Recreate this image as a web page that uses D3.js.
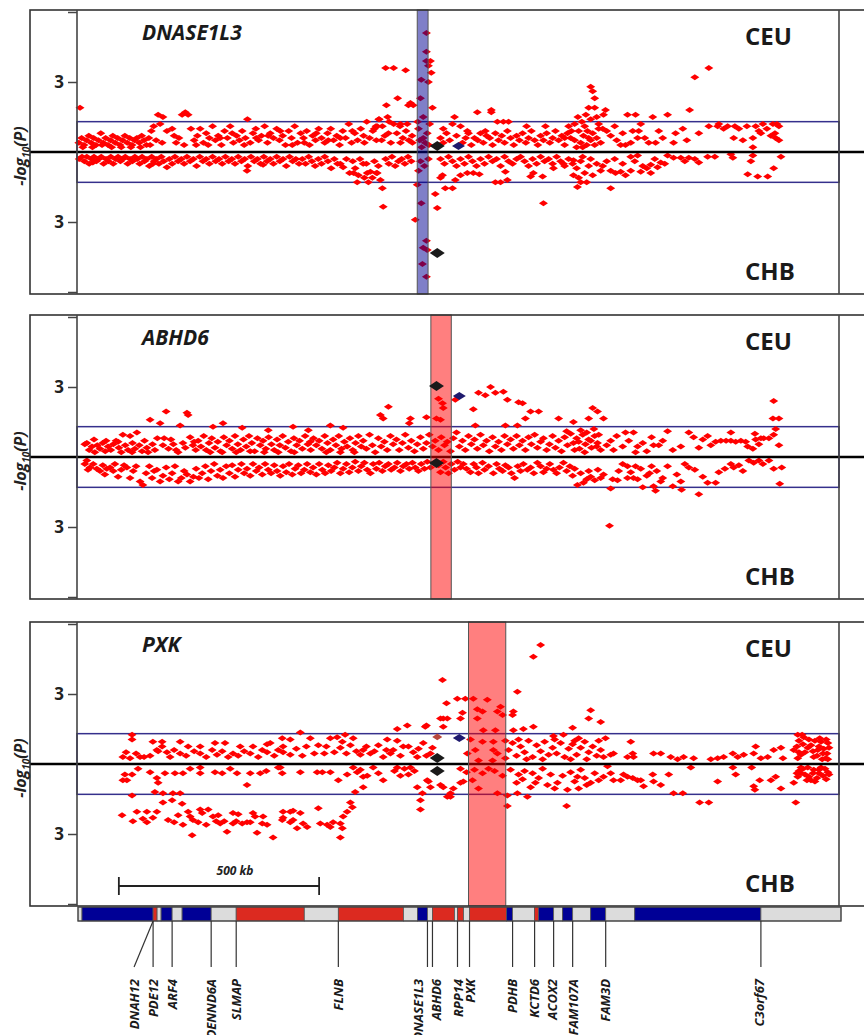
<!DOCTYPE html>
<html>
<head>
<meta charset="utf-8">
<script src="https://cdn.jsdelivr.net/npm/d3@7"></script>
<style>
body { margin: 0; background: #fff; }
text { font-family: "Open Sans", "DejaVu Sans", sans-serif; }
</style>
</head>
<body>
<div id="chart"></div>
<script>
// positions in kb from the left edge of the region, values are -log10(P)
// CEU values go up, CHB values go down
let ceu1 = [[5,1.9],[2,0.4],[9,0.6],[15,0.3],[21,0.5],[27,0.7],[33,0.4],[39,0.6],[45,0.3],[51,0.5],[57,0.8],[63,0.4],[69,0.6],[75,0.3],[81,0.5],[87,0.7],[93,0.4],[99,0.6],[105,0.3],[111,0.5],[117,0.7],[123,0.4],[129,0.6],[135,0.3],[141,0.5],[147,0.6],[153,0.4],[159,0.7],[165,0.5],[171,0.3],[177,0.6],[183,0.9],[189,1.1],[195,0.5],
  [200,1.6],[212,1.5],[205,1.2],[222,0.9],[235,1.0],[245,0.4],[252,0.6],[260,1.6],[268,1.7],[275,1.6],[282,1.0],[290,0.5],[298,0.7],[305,1.0],[313,0.4],[320,0.8],[328,0.6],[336,1.1],[343,0.5],[350,0.7],[358,0.3],[366,0.9],[373,0.6],[380,1.1],[388,0.4],[396,0.7],[403,0.5],[410,0.9],[418,0.6],[423,1.4],[430,0.4],[437,0.8],[444,1.0],[451,0.5],[458,0.7],[466,1.1],[473,0.4],[480,0.8],[488,0.6],[496,1.0],[503,0.5],[511,0.7],[518,0.3],[526,0.9],[533,0.6],[541,1.1],[548,0.4],[556,0.8],[563,0.6],[571,0.9],[578,0.3],[586,0.7],[593,0.5],[601,1.0],[608,0.6],[616,0.4],[623,0.8],[631,1.0],[638,0.5],[646,0.7],[653,0.3],[661,0.9],[668,0.6],[676,1.2],[683,0.4],[691,0.8],[698,0.5],[706,1.0],[713,0.7],[721,1.3],[728,0.6],[736,0.9],[744,1.1],[751,1.4],[758,0.5],[766,0.7],[773,1.5],[781,0.4],[788,1.2],[796,0.8],[804,1.1],[811,0.6],[819,0.9],[826,0.5],[834,0.7],
  [12,0.2],[36,0.2],[60,0.3],[84,0.2],[108,0.2],[132,0.2],[156,0.2],[180,0.3],[210,0.4],[240,0.7],[265,0.3],[295,0.3],[325,0.3],[355,0.6],[385,0.8],[415,0.3],[445,0.6],[475,0.7],[505,0.9],[535,0.3],[565,0.4],[595,0.8],[625,0.5],[655,0.6],[685,0.9],[715,0.4],[745,0.5],[775,0.8],[805,0.4],[835,0.4],
  [768,3.6],[788,3.6],[818,3.5],[798,2.3],[770,2.0],[830,2.1],[825,2.0],[837,2.0],[752,1.4],[777,1.3],[747,1.1],[760,1.1],[805,1.2],[822,1.2],[740,1.0],
  [870,5.1],[870,4.3],[870,3.9],[880,3.9],[875,3.7],[857,3.1],[875,3.0],[882,3.4],[855,2.3],[885,1.9],[862,1.5],[850,1.0],[862,0.6],[867,0.4],[858,0.2],[872,0.8],[853,0.5],[876,0.3],[848,1.3],[878,1.2],
  [940,1.5],[935,1.2],[955,1.1],[912,1.0],[972,0.9],[997,1.7],[1032,1.8],[1032,1.7],[1047,1.3],[1062,1.3],[1075,1.3],[1120,1.1],[1167,1.1],[1017,0.9],
  [905,0.6],[912,0.4],[920,0.8],[928,0.5],[945,0.7],[960,0.4],[968,0.6],[975,0.8],[982,0.3],[990,0.6],[998,0.5],[1005,0.8],[1012,0.4],[1020,0.7],[1028,0.6],[1035,0.3],[1042,0.8],[1050,0.5],[1058,0.7],[1065,0.4],[1072,0.9],[1080,0.6],[1088,0.3],[1095,0.7],[1102,0.5],[1110,0.8],[1118,0.4],[1125,0.6],[1132,0.9],[1140,0.5],[1148,0.3],[1155,0.7],[1162,0.5],[1170,0.8],[1178,0.4],[1185,0.6],[1192,0.9],[1200,0.5],[1208,0.7],[1215,0.3],[1222,0.8],[1230,0.6],
  [1280,2.8],[1285,2.6],[1290,2.3],[1275,1.9],[1290,1.9],[1268,1.6],[1248,1.5],[1258,1.3],[1240,1.2],[1265,1.1],[1280,1.4],[1295,1.5],[1300,1.0],[1250,0.9],[1262,0.7],[1272,0.9],[1285,0.8],[1295,0.6],[1305,0.4],[1240,0.5],[1232,0.9],[1255,0.4],[1270,0.3],[1280,0.5],[1300,1.2],[1225,1.1],[1215,0.6],[1245,0.2],[1260,0.2],[1275,0.6],[1290,0.3],
  [1317,1.8],[1312,1.6],[1372,1.6],[1392,1.6],[1435,1.5],[1472,1.6],[1527,1.8],[1540,3.2],[1575,3.6],[1510,1.0],[1492,0.8],[1397,0.6],[1380,0.4],[1442,0.4],[1367,0.3],[1355,0.3],[1330,0.7],[1310,1.0],[1575,1.1],[1597,1.1],[1622,1.1],[1650,1.0],[1692,1.1],[1735,1.2],[1750,1.1],[1637,0.6],[1660,0.5],[1685,0.6],[1705,0.8],[1730,0.7],[1742,0.6],[1750,0.5],[1685,0.2],[1487,0.4],
  [1320,0.9],[1345,0.5],[1360,0.8],[1400,0.9],[1415,0.6],[1425,0.4],[1450,0.9],[1460,0.6],[1520,0.5],[1550,0.8],[1600,1.2],[1612,1.0],[1640,1.1],[1670,1.1],[1710,1.2],[1720,1.0],[1745,1.2],[1700,0.9],[1740,0.8],[1340,1.1],[1385,0.9],[1405,1.2]];

let chb1 = [[3,0.3],[10,0.2],[16,0.4],[22,0.2],[28,0.5],[34,0.3],[37,0.45],[40,0.2],[46,0.4],[52,0.3],[58,0.2],[64,0.5],[70,0.3],[76,0.4],[82,0.2],[88,0.5],[94,0.3],[100,0.2],[106,0.4],[112,0.3],[118,0.2],[124,0.5],[130,0.3],[136,0.4],[142,0.2],[148,0.3],[154,0.5],[160,0.2],[166,0.4],[172,0.3],[178,0.6],[184,0.2],[187,0.5],[190,0.4],[196,0.3],[202,0.5],[208,0.2],[214,0.4],[222,0.65],[228,0.3],[235,0.5],[242,0.2],[250,0.4],[258,0.3],[265,0.5],[272,0.2],[280,0.4],[288,0.3],[296,0.6],[304,0.2],[312,0.4],[320,0.3],[328,0.5],[336,0.2],[344,0.4],[352,0.3],[360,0.5],[368,0.2],[376,0.4],[384,0.3],[392,0.5],[400,0.2],[408,0.4],[416,0.3],[422,0.8],[424,0.6],[432,0.2],[440,0.4],[448,0.3],[456,0.5],[462,0.55],[464,0.2],[472,0.4],[480,0.3],[488,0.5],[496,0.2],[504,0.4],[512,0.3],[520,0.6],[528,0.2],[536,0.4],[544,0.3],[552,0.5],
  [560,0.3],[568,0.5],[576,0.2],[584,0.4],[592,0.6],[600,0.3],[608,0.5],[616,0.2],[624,0.4],[632,0.7],[640,0.3],[648,0.5],[655,0.5],[662,0.65],[670,0.3],[678,0.9],[686,0.4],[688,0.9],[692,0.7],[697,1.3],[700,1.0],[704,0.3],[712,0.5],[715,1.1],[720,0.5],[722,0.9],[725,1.3],[730,0.85],[735,1.1],[740,0.4],[745,0.9],[747,0.9],[750,0.6],[755,1.2],[760,1.55],[762,2.35],[768,0.3],[776,0.5],[784,0.2],[792,0.6],[800,0.4],[808,0.3],[816,0.5],[824,0.2],[832,0.4],
  [847,1.4],[857,2.2],[842,2.9],[892,1.8],[897,2.4],[870,3.8],[862,4.1],[872,4.2],[860,4.8],[870,5.35],[855,0.4],[865,0.6],[875,0.3],[850,0.8],
  [910,1.0],[905,1.1],[917,1.55],[935,1.55],[942,1.2],[955,1.0],[972,0.9],[987,0.9],[1002,0.95],[1042,1.3],[1055,1.3],[1072,1.2],[1067,0.85],[1130,1.05],[1137,0.9],[1162,2.2],[1160,1.05],[1187,0.7],[1212,0.5],[1237,0.35],
  [905,0.3],[915,0.5],[925,0.2],[935,0.4],[945,0.6],[955,0.3],[965,0.5],[975,0.2],[985,0.4],[995,0.6],[1005,0.3],[1015,0.5],[1025,0.2],[1035,0.4],[1045,0.3],[1055,0.6],[1065,0.2],[1075,0.4],[1085,0.5],[1095,0.3],[1105,0.2],[1115,0.4],[1125,0.6],[1135,0.3],[1145,0.5],[1155,0.2],[1165,0.4],[1175,0.3],[1185,0.5],[1195,0.2],[1205,0.4],[1215,0.6],[1225,0.3],[1235,0.5],[1245,0.7],[1255,0.4],[1265,0.9],[1275,0.6],[1285,1.0],[1295,0.5],[1305,0.8],[1250,1.1],[1270,1.3],[1280,0.3],[1260,0.2],
  [1247,1.5],[1330,1.55],[1255,1.3],[1237,1.0],[1330,0.8],[1355,0.85],[1380,0.8],[1405,0.85],[1430,0.55],[1447,0.65],[1455,0.45],[1472,0.15],[1487,0.25],[1505,0.25],[1525,0.25],[1550,0.45],[1572,0.2],[1590,0.2],[1630,0.1],[1635,0.25],[1672,0.95],[1697,1.05],[1722,1.05],[1685,0.15],[1680,0.4],[1737,0.7],[1755,0.2],[1380,0.2],[1397,0.15],[1430,0.9],[1367,1.0],[1342,0.9],
  [1310,0.6],[1320,0.4],[1340,0.3],[1360,0.5],[1390,0.4],[1410,0.6],[1420,0.7],[1440,0.3],[1465,0.5],[1515,0.4],[1540,0.3]];

let ceu2 = [[17,0.55],[22,0.6],[28,0.3],[35,0.45],[42,0.2],[48,0.5],[55,0.35],[62,0.6],[68,0.25],[75,0.45],[82,0.3],[88,0.55],[95,0.7],[102,0.4],[108,0.2],[112,0.95],[118,0.5],[125,0.3],[130,0.9],[136,0.6],[142,0.35],[147,1.05],[153,0.5],[160,0.25],[166,0.7],[172,0.4],[180,1.6],[186,0.55],[192,0.3],[198,0.8],[205,1.45],[212,0.5],[220,1.95],[226,0.35],[232,0.75],[238,0.55],[245,0.3],[255,1.35],[262,0.6],[268,0.4],[272,1.9],[275,1.8],[280,0.85],[287,0.5],[294,0.3],[300,0.7],[307,0.45],[314,0.9],[320,0.3],[327,0.6],[334,0.8],[337,1.3],[342,0.4],[349,0.65],[356,0.25],[362,1.45],[364,0.85],[371,0.5],[378,0.7],[385,0.35],[392,0.9],[399,0.55],[406,0.3],[410,1.25],[413,0.75],[420,0.45],[427,0.9],[434,0.6],[441,0.25],[448,0.8],[455,0.5],[462,0.7],[469,0.35],[475,1.15],[476,0.85],[483,0.55],[490,0.3],[497,0.75],[504,0.5],[511,0.9],[518,0.4],[525,0.65],[532,0.25],[537,1.3],[539,0.8],[546,0.5],[553,0.7],[560,0.35],[567,0.9],[575,1.15],[574,0.55],[581,0.3],[588,0.8],[595,0.5],[602,0.7],[609,0.35],[616,0.9],[623,0.6],[630,1.35],[630,0.3],[637,0.75],[644,0.5],[651,0.9],[658,0.35],[662,1.25],[665,0.65],[672,0.45],[679,0.8],[686,0.3],[693,0.6],[700,0.9],[707,0.45],
  [40,0.75],[70,0.7],[100,0.65],[135,0.2],[175,0.2],[215,0.8],[250,0.2],[290,0.65],[330,0.2],[360,0.2],[395,0.2],[430,0.25],[465,0.2],[500,0.2],[540,0.2],[580,0.65],[620,0.2],[655,0.2],[690,0.2],
  [775,2.15],[755,1.8],[762,1.65],[830,1.65],[870,1.7],[827,1.45],[895,1.65],[905,1.6],[900,2.5],[910,2.3],[912,2.1],[942,2.45],
  [1000,2.75],[1030,3.0],[1042,2.75],[1062,2.8],[1017,2.65],[1072,2.45],[1100,2.35],[1110,2.3],[987,2.05],[1130,1.95],[1150,1.95],[1117,1.65],[1200,1.65],[1237,1.5],[1285,2.1],[1297,1.95],[1275,1.65],[1312,1.65],[1067,1.35],[1097,1.35],[992,1.35],
  [712,0.7],[720,0.35],[728,0.95],[735,0.5],[742,0.2],[750,0.8],[757,0.45],[765,0.65],[772,0.3],[780,0.9],[787,0.55],[795,0.75],[802,0.3],[810,0.6],[817,0.95],[825,0.4],[832,0.7],[840,0.25],[847,0.55],[855,0.85],[862,0.35],[870,0.6],[877,0.95],[885,0.45],[892,0.7],[900,0.3],[907,0.85],[915,0.5],[922,0.65],[930,0.25],[937,0.8],[945,1.05],[952,0.45],[960,0.7],[967,0.3],[975,0.9],[982,0.55],[990,0.75],[997,0.35],[1005,0.95],[1012,0.5],[1020,0.7],[1027,0.25],[1035,0.85],[1042,0.45],[1050,0.65],[1057,0.3],[1065,0.9],[1072,0.55],[1080,0.75],[1087,0.35],[1095,0.9],[1102,0.5],[1110,0.7],[1117,0.3],[1125,0.85],[1132,0.55],[1140,0.95],[1147,0.4],[1155,0.65],[1162,0.8],[1170,0.3],[1177,0.55],[1185,0.9],[1192,0.4],[1200,0.7],[1207,0.25],[1215,0.85],[1222,0.5],[1230,1.0],[1237,0.6],[1245,0.8],[1252,0.35],[1260,0.95],[1267,0.55],[1275,0.75],[1282,0.4],[1290,0.9],[1297,0.6],[1305,0.3],
  [1220,1.1],[1240,0.3],[1255,1.15],[1265,0.2],[1270,1.05],[1280,0.7],[1288,1.2],[1295,0.45],[1300,0.95],[1250,0.65],
  [1367,1.05],[1387,1.05],[1375,0.7],[1330,0.7],[1360,0.45],[1397,0.45],[1392,0.2],[1337,0.3],[1432,0.85],[1437,0.5],[1450,0.5],[1472,1.1],[1525,1.05],[1537,0.85],[1485,0.3],[1505,0.45],[1572,0.9],[1580,0.5],[1592,0.65],[1605,0.7],[1618,0.7],[1630,0.7],[1642,0.65],[1655,0.7],[1667,0.65],[1630,1.05],[1672,0.45],[1685,0.35],[1690,1.0],[1692,0.75],[1712,0.8],[1725,0.8],[1737,2.4],[1735,1.65],[1750,1.65],[1742,1.2],[1737,0.95],[1750,0.5],
  [1320,0.5],[1345,0.9],[1410,0.6],[1420,0.25],[1460,0.7],[1550,0.4],[1560,0.75],[1700,0.55],[1705,0.8]];

let chb2 = [[22,0.15],[30,0.45],[47,0.5],[80,0.45],[122,0.45],[67,0.75],[100,0.85],[130,0.9],[162,1.2],[155,1.05],[205,1.05],[250,1.05],[280,1.05],[197,0.55],[272,0.75],
  [17,0.3],[25,0.55],[38,0.3],[55,0.6],[62,0.35],[72,0.5],[88,0.6],[92,0.3],[108,0.55],[115,0.35],[138,0.6],[145,0.4],[170,0.7],[178,0.4],[185,0.9],[190,0.6],[212,0.8],[220,0.45],[228,0.95],[235,0.7],[242,0.4],[258,0.9],[265,0.6],[288,0.85],[295,0.5],[302,0.9],[310,0.7],[318,0.4],[325,0.95],[332,0.6],[340,0.3],[348,0.8],[355,0.55],[362,0.9],[370,0.4],[378,0.7],[385,0.35],[392,0.85],[400,0.55],[408,0.3],[415,0.7],[422,0.5],[430,0.8],[437,0.3],[445,0.6],[452,0.45],[460,0.75],[467,0.3],[475,0.55],[482,0.7],[490,0.35],[497,0.6],[505,0.8],[512,0.4],[520,0.65],[527,0.3],[535,0.75],[542,0.5],[550,0.35],[557,0.7],[565,0.55],[572,0.3],[580,0.65],[587,0.45],[595,0.75],[602,0.3],[610,0.55],[617,0.7],[625,0.35],[632,0.6],[640,0.45],[647,0.25],[655,0.7],[662,0.5],[670,0.3],[677,0.65],[685,0.45],[692,0.2],[700,0.6],[707,0.4],[715,0.25],[722,0.55],[730,0.7],[737,0.3],[745,0.5],[752,0.25],[760,0.6],[767,0.4],[775,0.3],[782,0.55],[790,0.45],[797,0.25],[805,0.6],[812,0.4],[820,0.3],[827,0.5],[835,0.25],[842,0.45],[850,0.6],[857,0.3],[865,0.5],[872,0.2],[880,0.45],
  [905,0.65],[925,0.7],[955,0.45],[980,0.65],[1000,0.7],[1037,0.7],[1067,0.35],[1090,0.9],[1122,0.55],[1147,0.25],[1162,0.65],[1187,0.55],[1212,0.25],[1247,1.2],[1262,1.1],[1280,0.85],
  [900,0.35],[912,0.2],[918,0.45],[932,0.3],[940,0.55],[948,0.2],[962,0.3],[970,0.5],[988,0.3],[995,0.45],[1010,0.25],[1015,0.55],[1025,0.4],[1045,0.3],[1052,0.5],[1060,0.6],[1075,0.45],[1082,0.7],[1098,0.4],[1105,0.6],[1112,0.3],[1130,0.45],[1138,0.7],[1155,0.4],[1170,0.5],[1178,0.3],[1195,0.7],[1202,0.45],[1220,0.6],[1228,0.4],[1235,0.8],[1240,0.5],[1255,0.7],[1270,0.95],[1275,0.6],[1290,1.0],[1298,0.55],[1305,0.9],
  [1312,0.75],[1335,0.95],[1347,1.0],[1372,0.9],[1387,0.9],[1397,0.95],[1372,0.4],[1392,0.4],[1432,0.4],[1472,0.4],[1525,0.45],[1427,0.7],[1410,1.3],[1437,1.25],[1442,1.45],[1455,1.05],[1485,1.25],[1505,1.05],[1507,1.4],[1550,1.6],[1572,1.1],[1592,1.1],[1630,0.3],[1637,0.45],[1675,0.15],[1687,0.25],[1700,0.15],[1725,0.15],[1737,0.5],[1757,0.45],[1752,1.15],[1330,1.35],[1327,2.95],
  [1350,0.6],[1360,0.3],[1380,0.65],[1405,0.5],[1420,0.8],[1445,0.6],[1460,0.9],[1495,0.75],[1515,0.3],[1540,0.55],[1560,0.85],[1600,0.65],[1615,0.5],[1650,0.35],[1660,0.6],[1710,0.3]];

let ceu3 = [[135,1.25],[135,1.05],[187,0.95],[210,0.95],[255,0.95],[210,0.75],[197,0.6],[275,0.75],[305,0.75],[342,0.9],[367,0.9],[405,0.75],[437,0.75],[480,0.9],[512,0.75],
  [112,0.3],[130,0.25],[155,0.3],[180,0.35],[222,0.5],[255,0.45],[305,0.45],[347,0.4],[387,0.45],[430,0.45],[472,0.5],[512,0.5],
  [555,1.35],[510,1.1],[530,1.05],[580,1.1],[647,1.15],[630,1.1],[667,1.25],[687,1.1],[660,0.95],[680,0.8],[472,0.85],[797,1.5],[822,1.65],[772,1.05],[797,1.0],[867,1.6],[912,1.95],[905,1.95],[910,3.6],[920,2.6],
  [712,0.6],[730,0.45],[762,0.3],[705,0.4],[787,0.6],[812,0.75],[837,0.5],[862,0.9],[847,0.3],[880,0.45],
  [120,0.5],[145,0.45],[165,0.3],[200,0.55],[230,0.3],[240,0.6],[270,0.35],[290,0.55],[320,0.3],[335,0.6],[360,0.55],[375,0.3],[400,0.35],[415,0.55],[450,0.3],[460,0.6],[490,0.35],[500,0.6],[530,0.4],[545,0.65],[560,0.35],[570,0.75],[590,0.45],[600,0.8],[615,0.45],[620,0.75],[640,0.5],[655,0.7],[670,0.45],[695,0.55],[720,0.75],[740,0.55],[750,0.8],[770,0.6],[780,0.45],[805,0.35],[825,0.75],[850,0.65],[870,0.35],[885,0.7],
  [1155,5.1],[1137,4.6],[1097,3.1],[947,2.8],[967,2.8],[987,2.8],[1022,2.75],[997,2.35],[1010,2.25],[1047,2.25],[1055,2.45],[1060,2.1],[1087,2.25],[1085,2.1],[997,1.95],[960,2.2],[922,1.95],[955,1.95],[912,1.6],[870,1.65],[1112,1.5],[1137,1.6],[1087,1.45],[1012,1.45],[1042,1.45],[1235,1.55],[1280,2.3],[1275,1.95],[1305,1.8],[1212,1.25],[1187,1.2],
  [980,1.05],[1010,0.95],[1037,0.95],[1067,1.0],[992,0.6],[1037,0.6],[1047,0.45],[972,0.45],[1000,0.15],[1035,0.15],[1067,0.25],
  [1075,0.6],[1085,0.9],[1095,0.35],[1105,0.75],[1115,0.5],[1125,1.0],[1135,0.3],[1145,0.8],[1155,0.55],[1165,0.95],[1175,0.4],[1185,0.7],[1195,0.45],[1205,0.9],[1215,0.3],[1225,0.65],[1235,0.85],[1245,0.4],[1255,0.7],[1265,0.95],[1275,0.5],[1285,0.75],[1295,0.35],[1300,1.0],[1250,1.1],[1230,0.2],[1270,0.2],[1120,0.2],[1160,0.2],[1190,1.05],[1240,1.0],[1100,1.05],
  [1317,1.1],[1380,0.95],[1305,0.6],[1312,0.3],[1337,0.45],[1330,0.4],[1385,0.45],[1387,0.3],[1372,0.3],[1437,0.45],[1455,0.45],[1480,0.3],[1497,0.2],[1512,0.3],[1537,0.25],[1580,0.2],[1597,0.25],[1612,0.3],[1635,0.45],[1647,0.3],[1662,0.4],[1692,0.75],[1687,0.45],[1705,0.25],[1722,0.3],[1737,0.6],[1755,0.7],[1760,0.25],[1787,0.6],[1797,1.25],[1812,1.15],[1825,1.05],[1855,0.95],[1872,0.9],[1822,0.7],[1847,0.6],[1860,0.45],[1837,0.3],[1867,0.25],[1805,0.4],[1797,0.25],
  [1800,1.0],[1810,0.85],[1815,0.5],[1830,0.8],[1840,1.0],[1850,0.75],[1862,0.65],[1870,0.45],[1875,0.7],[1800,0.5],[1795,0.75],[1808,1.25],[1852,1.1],[1868,1.05],[1835,0.55],[1845,0.35],[1858,0.2],[1872,0.2]];

let chb3 = [[117,0.45],[135,0.45],[112,0.7],[122,0.7],[197,0.6],[200,0.8],[217,0.4],[242,0.4],[262,0.4],[305,0.4],[305,0.15],[342,0.35],[397,0.4],[430,0.4],[455,0.4],[422,0.9],[500,0.15],[150,0.2],[180,0.35],[280,0.2],[360,0.4],[380,0.2],[470,0.3],
  [135,1.35],[192,1.2],[212,1.25],[237,1.25],[255,1.25],[235,1.55],[212,1.65],[260,1.7],[110,2.2],[147,2.05],[172,2.05],[197,2.05],[137,2.45],[172,2.5],[187,2.3],[275,2.05],[305,1.95],[325,1.95],[280,2.25],[287,2.4],[262,2.6],[285,3.05],[337,2.25],[387,2.1],[355,2.55],[387,2.55],[422,2.5],[442,2.25],[372,2.9],[447,2.95],[487,3.15],[472,2.6],[512,2.05],[530,2.05],[512,2.3],[537,2.4],
  [162,2.35],[225,2.4],[240,2.5],[300,2.5],[320,2.6],[345,2.45],[365,2.45],[395,2.45],[410,2.55],[430,2.5],[460,2.55],[310,2.1],[350,2.2],[400,2.15],[250,2.2],
  [505,0.15],[510,0.4],[555,0.35],[597,0.35],[610,0.35],[630,0.35],[650,0.7],[672,0.45],[687,0.15],[697,0.35],[712,0.55],[722,0.5],[705,0.25],[737,0.15],[750,0.4],[762,0.7],[797,0.15],[830,0.15],[712,1.0],[692,1.2],[680,1.65],[685,1.85],[672,2.05],[662,2.25],[655,2.55],[660,2.75],[655,3.15],[637,2.5],[630,2.7],[600,1.9],[555,2.1],[537,2.0],[510,2.4],[530,2.5],[562,2.55],[572,2.7],[547,2.75],[605,2.55],[622,2.6],[462,2.25],[437,2.1],
  [847,1.0],[860,1.25],[855,1.55],[855,1.95],[872,0.7],[880,1.0],[912,1.0],[922,1.4],
  [875,0.75],[905,0.9],[962,0.75],[985,0.7],[1000,1.05],[955,0.8],[937,1.05],[930,1.25],[930,1.4],[1047,1.25],[1072,1.35],[1097,1.25],[1122,1.4],[1072,1.8],[1135,0.4],[1142,0.8],[1172,0.9],[1197,0.8],[1222,1.1],[1247,0.55],[1255,0.25],[1280,0.8],[1312,0.55],[1337,0.7],[1362,0.45],[1397,0.7],[1412,0.95],[1220,1.8],
  [790,0.3],[805,0.5],[815,0.2],[825,0.45],[840,0.3],[955,0.2],[970,0.35],[990,0.25],[1010,0.4],[1025,0.2],[1040,0.3],[1060,0.5],[1080,0.25],[1100,0.45],[1115,0.3],[1150,0.6],[1160,0.2],[1180,0.45],[1210,0.5],[1230,0.35],[1265,0.6],[1290,0.4],[1300,0.7],[1095,0.8],[1110,0.65],[1130,1.0],[1190,1.05],[1240,0.75],[1270,0.9],[1250,1.05],
  [1322,0.1],[1330,0.4],[1355,0.7],[1372,0.55],[1385,0.6],[1405,0.7],[1435,0.45],[1437,0.75],[1455,0.9],[1475,0.45],[1487,1.25],[1510,1.25],[1530,0.15],[1552,1.65],[1575,1.65],[1597,0.75],[1635,0.15],[1642,0.45],[1682,0.15],[1687,0.95],[1690,1.1],[1702,0.7],[1730,0.7],[1742,0.55],[1755,1.05],[1787,0.8],[1792,1.65],[1805,0.15],[1797,0.55],[1822,0.15],[1837,0.25],[1855,0.15],[1872,0.35],[1805,0.4],[1830,0.7],[1850,0.4],
  [1800,0.3],[1815,0.45],[1825,0.55],[1845,0.6],[1860,0.5],[1868,0.65],[1875,0.45],[1810,0.2],[1835,0.4],[1850,0.25],[1865,0.2],[1820,0.7],[1795,0.4],[1840,0.75]];

// lead SNP (black), tag SNP (navy) and one dark red SNP, one entry per panel
let leadCEU = [[897,0.26],[895,3.04],[897,0.26]];
let leadCHB = [[897,4.33],[895,0.26],[897,0.3]];
let tagCEU = [[950,0.26],[952,2.61],[952,1.11]];
let otherCEU = [[], [], [[897,1.16]]];

let panelGenes = ["DNASE1L3", "ABHD6", "PXK"];
let panelBands = [[847,874],[881,932],[975,1068]];
let panelBandColor = ["#000091", "#ff0000", "#ff0000"];
let threshold = 1.3;
let yTicks = [-6, -3, 3, 6];

// gene track
let segStart = [0,10,187.5,197.5,207.5,235,260,332.5,395,565,650,812.5,847.5,872.5,885,940,947.5,962.5,977.5,1070,1085,1140,1150,1187.5,1210,1235,1280,1317.5,1390,1705];
let segType = ["g","b","r","g","b","g","b","g","r","g","r","g","b","g","r","g","r","g","r","b","g","r","b","g","b","g","b","g","b","g"];
let trackEnd = 1905;
let geneNames = ["DNAH12","PDE12","ARF4","DENND6A","SLMAP","FLNB","DNASE1L3","ABHD6","RPP14","PXK","PDHB","KCTD6","ACOX2","FAM107A","FAM3D","C3orf67"];
let geneTick = [187.5,187.5,235,332.5,395,650,872.5,885,947.5,977.5,1085,1140,1187.5,1235,1317.5,1705];
let geneLabel = [140,187.5,235,332.5,395,650,851,896,951,979,1085,1140,1185,1237,1317.5,1702];

let width = 864, height = 1035;
let frameLeft = 30, plotLeft = 77, plotRight = 839;
let panelTop = [10, 315, 622], panelH = 284;
let trackTop = 907, trackBottom = 921;

let x = d3.scaleLinear().domain([0, 1900]).range([78, plotRight]);
let segColor = {b: "#000096", r: "#dc2a20", g: "#dcdcdc"};
let diamond = (w, h) => `M${-w},0L0,${-h}L${w},0L0,${h}Z`;

let svg = d3.select("#chart").append("svg")
    .attr("width", width)
    .attr("height", height)
    .attr("viewBox", [0, 0, width, height]);

let ceuData = [ceu1, ceu2, ceu3];
let chbData = [chb1, chb2, chb3];

panelTop.forEach((top, i) => {
    let mid = top + panelH / 2;
    let y = d3.scaleLinear().domain([-6, 6]).range([mid + 140, mid - 140]);
    let g = svg.append("g");

    // threshold box p = 0.05
    g.append("rect")
        .attr("x", plotLeft)
        .attr("y", y(threshold))
        .attr("width", plotRight - plotLeft)
        .attr("height", y(-threshold) - y(threshold))
        .attr("fill", "none")
        .attr("stroke", "#35308c")
        .attr("stroke-width", 1.5);

    let pts = g.append("g").attr("fill", "#ff0000");
    pts.selectAll("path.ceu")
        .data(ceuData[i])
        .join("path")
        .attr("class", "ceu")
        .attr("transform", d => `translate(${x(d[0])},${y(d[1])})`)
        .attr("d", diamond(4.5, 3));
    pts.selectAll("path.chb")
        .data(chbData[i])
        .join("path")
        .attr("class", "chb")
        .attr("transform", d => `translate(${x(d[0])},${y(-d[1])})`)
        .attr("d", diamond(4.5, 3));

    // zero line
    g.append("line")
        .attr("x1", frameLeft).attr("x2", width)
        .attr("y1", y(0)).attr("y2", y(0))
        .attr("stroke", "#000")
        .attr("stroke-width", 2.6);

    // gene band
    g.append("rect")
        .attr("x", x(panelBands[i][0]))
        .attr("y", top)
        .attr("width", x(panelBands[i][1]) - x(panelBands[i][0]))
        .attr("height", panelH)
        .attr("fill", panelBandColor[i])
        .attr("fill-opacity", 0.5)
        .attr("stroke", "#555")
        .attr("stroke-width", 1);

    g.selectAll("path.other")
        .data(otherCEU[i])
        .join("path")
        .attr("class", "other")
        .attr("transform", d => `translate(${x(d[0])},${y(d[1])})`)
        .attr("d", diamond(5, 3.4))
        .attr("fill", "#b8473c");
    g.append("path")
        .attr("transform", `translate(${x(tagCEU[i][0])},${y(tagCEU[i][1])})`)
        .attr("d", diamond(6.5, 4))
        .attr("fill", "#1f1a6e");
    g.append("path")
        .attr("transform", `translate(${x(leadCEU[i][0])},${y(leadCEU[i][1])})`)
        .attr("d", diamond(7.5, 5))
        .attr("fill", "#1a1a1a");
    g.append("path")
        .attr("transform", `translate(${x(leadCHB[i][0])},${y(-leadCHB[i][1])})`)
        .attr("d", diamond(7.5, 5))
        .attr("fill", "#1a1a1a");

    // frame
    g.append("rect")
        .attr("x", frameLeft).attr("y", top)
        .attr("width", 880 - frameLeft).attr("height", panelH)
        .attr("fill", "none")
        .attr("stroke", "#333")
        .attr("stroke-width", 1.6);
    g.append("line")
        .attr("x1", plotRight).attr("x2", plotRight)
        .attr("y1", top).attr("y2", top + panelH)
        .attr("stroke", "#444").attr("stroke-width", 1.6);
    g.append("line")
        .attr("x1", plotLeft).attr("x2", plotLeft)
        .attr("y1", top).attr("y2", top + panelH)
        .attr("stroke", "#444").attr("stroke-width", 1.6);

    g.append("g")
        .attr("transform", `translate(${plotLeft},0)`)
        .call(d3.axisLeft(y).tickValues(yTicks).tickFormat(d => Math.abs(d) === 3 ? "3" : "").tickSize(9).tickPadding(4))
        .call(g => g.select(".domain").remove())
        .call(g => g.selectAll("line").attr("stroke", "#444").attr("stroke-width", 1.5))
        .call(g => g.selectAll("text")
            .attr("font-family", "'Open Sans', sans-serif")
            .attr("font-size", 17)
            .attr("font-weight", "bold")
            .attr("fill", "#222"));

    let yl = g.append("text")
        .attr("transform", `translate(26,${mid + 4}) rotate(-90)`)
        .attr("text-anchor", "middle")
        .attr("font-size", 16)
        .attr("font-weight", "bold")
        .attr("font-style", "italic")
        .attr("fill", "#222");
    yl.append("tspan").text("-log");
    yl.append("tspan").attr("font-size", 10).attr("dy", 4).text("10");
    yl.append("tspan").attr("dy", -4).text("(P)");

    g.append("text")
        .attr("x", 142).attr("y", top + 30)
        .attr("font-size", 21).attr("font-weight", "bold").attr("font-style", "italic")
        .attr("fill", "#1a1a1a")
        .text(panelGenes[i]);
    g.append("text")
        .attr("x", 745).attr("y", top + 35)
        .attr("font-size", 24).attr("font-weight", "bold")
        .attr("fill", "#1a1a1a")
        .text("CEU");
    g.append("text")
        .attr("x", 745).attr("y", top + 270)
        .attr("font-size", 24).attr("font-weight", "bold")
        .attr("fill", "#1a1a1a")
        .text("CHB");

    // scale bar in the last panel
    if (i === 2) {
        let s0 = 102, s1 = 602, by = top + 264;
        let bar = g.append("g").attr("stroke", "#222").attr("stroke-width", 1.8);
        bar.append("line").attr("x1", x(s0)).attr("x2", x(s1)).attr("y1", by).attr("y2", by);
        bar.append("line").attr("x1", x(s0)).attr("x2", x(s0)).attr("y1", by - 9).attr("y2", by + 9);
        bar.append("line").attr("x1", x(s1)).attr("x2", x(s1)).attr("y1", by - 9).attr("y2", by + 9);
        g.append("text")
            .attr("x", (x(s0) + x(s1)) / 2 + 16).attr("y", by - 11)
            .attr("text-anchor", "middle")
            .attr("font-size", 12).attr("font-weight", "bold").attr("font-style", "italic")
            .attr("fill", "#222")
            .text("500 kb");
    }
});

// gene track
let segs = segStart.map((s, i) => ({start: s, end: i < segStart.length - 1 ? segStart[i + 1] : trackEnd, type: segType[i]}));
let track = svg.append("g");
track.selectAll("rect")
    .data(segs)
    .join("rect")
    .attr("x", d => x(d.start))
    .attr("y", trackTop)
    .attr("width", d => x(d.end) - x(d.start))
    .attr("height", trackBottom - trackTop)
    .attr("fill", d => segColor[d.type])
    .attr("stroke", "#555")
    .attr("stroke-width", 0.8);
track.append("rect")
    .attr("x", x(0)).attr("y", trackTop)
    .attr("width", x(trackEnd) - x(0)).attr("height", trackBottom - trackTop)
    .attr("fill", "none").attr("stroke", "#444").attr("stroke-width", 1.2);

track.selectAll("line.lead")
    .data(geneNames)
    .join("line")
    .attr("class", "lead")
    .attr("x1", (d, i) => x(geneTick[i]))
    .attr("x2", (d, i) => x(i === 0 ? geneLabel[i] : geneTick[i]))
    .attr("y1", trackBottom)
    .attr("y2", 967)
    .attr("stroke", "#333")
    .attr("stroke-width", 1.2);

track.selectAll("text.gene")
    .data(geneNames)
    .join("text")
    .attr("class", "gene")
    .attr("transform", (d, i) => `translate(${x(geneLabel[i])},979) rotate(-90)`)
    .attr("text-anchor", "end")
    .attr("dy", "0.35em")
    .attr("font-size", 13)
    .attr("font-weight", "bold")
    .attr("font-style", "italic")
    .attr("fill", "#1a1a1a")
    .text(d => d);
</script>
</body>
</html>
